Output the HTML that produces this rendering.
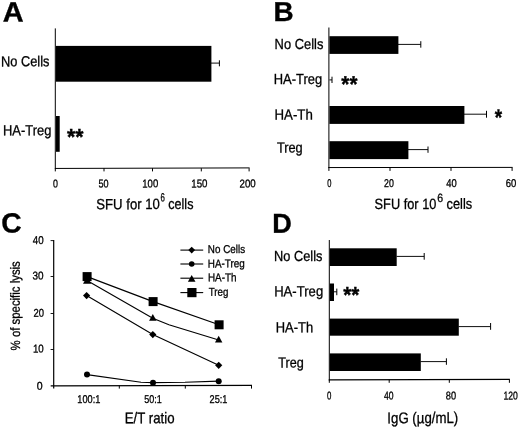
<!DOCTYPE html>
<html lang="en"><head><meta charset="utf-8"><title>Figure</title>
<style>
html,body{margin:0;padding:0;background:#fff;}
svg{display:block;font-family:"Liberation Sans", Arial, Helvetica, sans-serif;fill:#000;}
text{stroke:#000;stroke-width:.3px;}
text[font-weight=bold]{stroke-width:.35px;}
</style></head><body>
<svg width="520" height="428" viewBox="0 0 520 428">
<rect x="0" y="0" width="520" height="428" style="fill:#fff"/>
<text id="t0" x="2.81" y="21.5" font-size="27.8" font-weight="bold" textLength="20.86" lengthAdjust="spacingAndGlyphs" transform="rotate(-0.1 2.81 21.5)">A</text>
<line x1="55.3" y1="28.4" x2="55.3" y2="169" stroke="#000" stroke-width="1"/>
<line x1="55" y1="168.45" x2="249.6" y2="167.9" stroke="#000" stroke-width="1"/>
<line x1="55.3" y1="168.2" x2="55.3" y2="171.4" stroke="#000" stroke-width="1"/>
<line x1="104" y1="168.2" x2="104" y2="171.4" stroke="#000" stroke-width="1"/>
<line x1="152.5" y1="168.2" x2="152.5" y2="171.4" stroke="#000" stroke-width="1"/>
<line x1="201.3" y1="168.2" x2="201.3" y2="171.4" stroke="#000" stroke-width="1"/>
<line x1="249.1" y1="168.2" x2="249.1" y2="171.4" stroke="#000" stroke-width="1"/>
<rect x="55.8" y="45.9" width="155.6" height="35.8"/>
<line x1="211" y1="63.1" x2="219.4" y2="63.1" stroke="#000" stroke-width="0.95"/>
<line x1="219.4" y1="60.3" x2="219.4" y2="66.3" stroke="#000" stroke-width="1"/>
<rect x="56" y="116" width="3.7" height="35.8"/>
<text id="t1" x="1.01" y="66.4" font-size="14.6" textLength="48.46" lengthAdjust="spacingAndGlyphs" transform="rotate(-0.1 1.01 66.4)">No Cells</text>
<text id="t2" x="2.99" y="135.3" font-size="14.6" textLength="48.36" lengthAdjust="spacingAndGlyphs" transform="rotate(-0.1 2.99 135.3)">HA-Treg</text>
<text id="t3" x="67.06" y="144.5" font-size="22.5" font-weight="bold" textLength="16.56" lengthAdjust="spacingAndGlyphs" transform="rotate(-0.1 67.06 144.5)">**</text>
<text id="t4" x="52.97" y="187.4" font-size="11.3" textLength="4.94" lengthAdjust="spacingAndGlyphs" transform="rotate(-0.1 52.97 187.4)">0</text>
<text id="t5" x="98.51" y="187.4" font-size="11.3" textLength="10.11" lengthAdjust="spacingAndGlyphs" transform="rotate(-0.1 98.51 187.4)">50</text>
<text id="t6" x="142.28" y="187.4" font-size="11.3" textLength="15.95" lengthAdjust="spacingAndGlyphs" transform="rotate(-0.1 142.28 187.4)">100</text>
<text id="t7" x="191.27" y="187.4" font-size="11.3" textLength="16.23" lengthAdjust="spacingAndGlyphs" transform="rotate(-0.1 191.27 187.4)">150</text>
<text id="t8" x="239.5" y="187.4" font-size="11.3" textLength="16.25" lengthAdjust="spacingAndGlyphs" transform="rotate(-0.1 239.5 187.4)">200</text>
<text font-size="14.8" transform="rotate(-0.1 97 209.2)"><tspan id="t9" x="96.28" y="209.2" font-size="14.8" textLength="63.66" lengthAdjust="spacingAndGlyphs">SFU for 10</tspan><tspan id="t10" x="160.49" y="201.5" font-size="12" textLength="4.36" lengthAdjust="spacingAndGlyphs">6</tspan><tspan id="t11" x="164.73" y="209.2" font-size="14.8" textLength="28.75" lengthAdjust="spacingAndGlyphs"> cells</tspan></text>
<text id="t12" x="273.4" y="21.1" font-size="27.3" font-weight="bold" textLength="20.17" lengthAdjust="spacingAndGlyphs" transform="rotate(-0.1 273.4 21.1)">B</text>
<line x1="328.9" y1="27.5" x2="328.9" y2="168" stroke="#000" stroke-width="1"/>
<line x1="328.3" y1="167.55" x2="512.6" y2="167.4" stroke="#000" stroke-width="1"/>
<line x1="328.9" y1="167.5" x2="328.9" y2="170.9" stroke="#000" stroke-width="1"/>
<line x1="390" y1="167.5" x2="390" y2="170.9" stroke="#000" stroke-width="1"/>
<line x1="451" y1="167.5" x2="451" y2="170.9" stroke="#000" stroke-width="1"/>
<line x1="512.1" y1="167.5" x2="512.1" y2="170.9" stroke="#000" stroke-width="1"/>
<rect x="329.4" y="36.2" width="69.0" height="17.7"/>
<line x1="398" y1="44.4" x2="420.8" y2="44.4" stroke="#000" stroke-width="0.95"/>
<line x1="420.8" y1="41.2" x2="420.8" y2="47.7" stroke="#000" stroke-width="1"/>
<line x1="329.4" y1="79.9" x2="332" y2="79.9" stroke="#000" stroke-width="0.95"/>
<line x1="332" y1="76.7" x2="332" y2="83" stroke="#000" stroke-width="1"/>
<rect x="329.4" y="106" width="135.0" height="17.9"/>
<line x1="464" y1="114.2" x2="486.5" y2="114.2" stroke="#000" stroke-width="0.95"/>
<line x1="486.5" y1="110.8" x2="486.5" y2="117.7" stroke="#000" stroke-width="1"/>
<rect x="329.4" y="141.2" width="79.0" height="17.9"/>
<line x1="408" y1="149.6" x2="428" y2="149.6" stroke="#000" stroke-width="0.95"/>
<line x1="428" y1="146.5" x2="428" y2="152.8" stroke="#000" stroke-width="1"/>
<text id="t13" x="274.59" y="49" font-size="14.6" textLength="48.82" lengthAdjust="spacingAndGlyphs" transform="rotate(-0.1 274.59 49)">No Cells</text>
<text id="t14" x="273.68" y="84" font-size="14.6" textLength="48.54" lengthAdjust="spacingAndGlyphs" transform="rotate(-0.1 273.68 84)">HA-Treg</text>
<text id="t15" x="274.52" y="119.5" font-size="14.6" textLength="38.35" lengthAdjust="spacingAndGlyphs" transform="rotate(-0.1 274.52 119.5)">HA-Th</text>
<text id="t16" x="276.89" y="152.5" font-size="14.6" textLength="25.85" lengthAdjust="spacingAndGlyphs" transform="rotate(-0.1 276.89 152.5)">Treg</text>
<text id="t17" x="341.33" y="91.7" font-size="22.5" font-weight="bold" textLength="16.15" lengthAdjust="spacingAndGlyphs" transform="rotate(-0.1 341.33 91.7)">**</text>
<text id="t18" x="494.64" y="125.1" font-size="22.5" font-weight="bold" textLength="7.41" lengthAdjust="spacingAndGlyphs" transform="rotate(-0.1 494.64 125.1)">*</text>
<text id="t19" x="327.22" y="186.9" font-size="11.3" textLength="4.2" lengthAdjust="spacingAndGlyphs" transform="rotate(-0.1 327.22 186.9)">0</text>
<text id="t20" x="384.1" y="186.9" font-size="11.3" textLength="9.83" lengthAdjust="spacingAndGlyphs" transform="rotate(-0.1 384.1 186.9)">20</text>
<text id="t21" x="446.16" y="186.9" font-size="11.3" textLength="10.49" lengthAdjust="spacingAndGlyphs" transform="rotate(-0.1 446.16 186.9)">40</text>
<text id="t22" x="505.73" y="186.9" font-size="11.3" textLength="10.6" lengthAdjust="spacingAndGlyphs" transform="rotate(-0.1 505.73 186.9)">60</text>
<text font-size="14.8" transform="rotate(-0.1 375.3 209)"><tspan id="t23" x="374.6" y="209" font-size="14.8" textLength="61.8" lengthAdjust="spacingAndGlyphs">SFU for 10</tspan><tspan id="t24" x="437.27" y="202.2" font-size="12" textLength="5.86" lengthAdjust="spacingAndGlyphs">6</tspan><tspan id="t25" x="442.94" y="209" font-size="14.8" textLength="29.31" lengthAdjust="spacingAndGlyphs"> cells</tspan></text>
<text id="t26" x="1.15" y="232.6" font-size="27.8" font-weight="bold" textLength="20.41" lengthAdjust="spacingAndGlyphs" transform="rotate(-0.1 1.15 232.6)">C</text>
<line x1="53.7" y1="240.1" x2="53.7" y2="388.6" stroke="#000" stroke-width="1.2"/>
<line x1="50.7" y1="385.9" x2="252" y2="385.3" stroke="#000" stroke-width="1.2"/>
<line x1="50.6" y1="240.6" x2="53.7" y2="240.6" stroke="#000" stroke-width="0.9"/>
<line x1="50.6" y1="276.5" x2="53.7" y2="276.5" stroke="#000" stroke-width="0.9"/>
<line x1="50.6" y1="313.5" x2="53.7" y2="313.5" stroke="#000" stroke-width="0.9"/>
<line x1="50.6" y1="349.5" x2="53.7" y2="349.5" stroke="#000" stroke-width="0.9"/>
<line x1="119.3" y1="385.6" x2="119.3" y2="388.6" stroke="#000" stroke-width="1"/>
<line x1="185.3" y1="385.6" x2="185.3" y2="388.6" stroke="#000" stroke-width="1"/>
<line x1="251.5" y1="385.6" x2="251.5" y2="388.6" stroke="#000" stroke-width="1"/>
<text id="t27" x="32.83" y="244" font-size="11.3" textLength="10.91" lengthAdjust="spacingAndGlyphs" transform="rotate(-0.1 32.83 244)">40</text>
<text id="t28" x="32.5" y="279.6" font-size="11.3" textLength="11.11" lengthAdjust="spacingAndGlyphs" transform="rotate(-0.1 32.5 279.6)">30</text>
<text id="t29" x="33.54" y="316.7" font-size="11.3" textLength="10.54" lengthAdjust="spacingAndGlyphs" transform="rotate(-0.1 33.54 316.7)">20</text>
<text id="t30" x="32.89" y="352.6" font-size="11.3" textLength="10.85" lengthAdjust="spacingAndGlyphs" transform="rotate(-0.1 32.89 352.6)">10</text>
<text id="t31" x="36.64" y="389.7" font-size="11.3" textLength="5.9" lengthAdjust="spacingAndGlyphs" transform="rotate(-0.1 36.64 389.7)">0</text>
<text id="rot" transform="translate(19.9 350.4) rotate(-90.1)" font-size="13.3" textLength="89.2" lengthAdjust="spacingAndGlyphs">% of specific lysis</text>
<text id="t32" x="77.35" y="403" font-size="11.3" textLength="23.04" lengthAdjust="spacingAndGlyphs" transform="rotate(-0.1 77.35 403)">100:1</text>
<text id="t33" x="144.26" y="403" font-size="11.3" textLength="17.52" lengthAdjust="spacingAndGlyphs" transform="rotate(-0.1 144.26 403)">50:1</text>
<text id="t34" x="209.57" y="403" font-size="11.3" textLength="17.86" lengthAdjust="spacingAndGlyphs" transform="rotate(-0.1 209.57 403)">25:1</text>
<text id="t35" x="124.74" y="423.3" font-size="15.5" textLength="49.83" lengthAdjust="spacingAndGlyphs" transform="rotate(-0.1 124.74 423.3)">E/T ratio</text>
<polyline fill="none" stroke="#000" stroke-width="1.15" points="87.1,276.6 153.1,301.6 219.1,324.8"/>
<polyline fill="none" stroke="#000" stroke-width="1.15" points="87,280.6 152.8,318.3 168.9,324.8 218.7,340"/>
<polyline fill="none" stroke="#000" stroke-width="1.15" points="86.6,295.6 152.8,334.6 218.7,365.3"/>
<polyline fill="none" stroke="#000" stroke-width="1.15" points="87,374.6 141,382.2 153,382.6 185,382.3 218.7,381.1"/>
<rect x="82.6" y="272.1" width="9.0" height="9.0"/>
<rect x="148.6" y="297.1" width="9.0" height="9.0"/>
<rect x="214.6" y="320.3" width="9.0" height="9.0"/>
<polygon points="87.1,276.59999999999997 91.19999999999999,283.7 83.0,283.7"/>
<polygon points="152.8,314.0 156.5,320.7 149.10000000000002,320.7"/>
<polygon points="218.7,335.8 222.39999999999998,342.5 215.0,342.5"/>
<polygon points="86.6,292.0 90.19999999999999,295.6 86.6,299.20000000000005 83.0,295.6"/>
<polygon points="152.8,331.0 156.4,334.6 152.8,338.20000000000005 149.20000000000002,334.6"/>
<polygon points="218.7,361.7 222.29999999999998,365.3 218.7,368.90000000000003 215.1,365.3"/>
<circle cx="87" cy="374.6" r="3.0"/>
<circle cx="153" cy="382.7" r="3.0"/>
<circle cx="218.7" cy="381.2" r="3.0"/>
<line x1="180.4" y1="250.1" x2="203.2" y2="250.1" stroke="#000" stroke-width="1.1"/>
<line x1="180.4" y1="264" x2="203.2" y2="264" stroke="#000" stroke-width="1.1"/>
<line x1="180.4" y1="278.2" x2="203.2" y2="278.2" stroke="#000" stroke-width="1.1"/>
<line x1="180.4" y1="292.6" x2="203.2" y2="292.6" stroke="#000" stroke-width="1.1"/>
<polygon points="191.7,246.7 195.1,250.1 191.7,253.5 188.29999999999998,250.1"/>
<circle cx="191.7" cy="264" r="2.8"/>
<polygon points="191.7,274.90000000000003 195.5,281.8 187.89999999999998,281.8"/>
<rect x="187.3" y="288.0" width="9.2" height="9.2"/>
<text id="t36" x="207.83" y="253" font-size="11.4" textLength="37.24" lengthAdjust="spacingAndGlyphs" transform="rotate(-0.1 207.83 253)">No Cells</text>
<text id="t37" x="207.83" y="267.4" font-size="11.4" textLength="37.03" lengthAdjust="spacingAndGlyphs" transform="rotate(-0.1 207.83 267.4)">HA-Treg</text>
<text id="t38" x="207.91" y="281.2" font-size="11.4" textLength="28.58" lengthAdjust="spacingAndGlyphs" transform="rotate(-0.1 207.91 281.2)">HA-Th</text>
<text id="t39" x="208.65" y="295.8" font-size="11.4" textLength="19.65" lengthAdjust="spacingAndGlyphs" transform="rotate(-0.1 208.65 295.8)">Treg</text>
<text id="t40" x="272.31" y="232.8" font-size="27.2" font-weight="bold" textLength="19.57" lengthAdjust="spacingAndGlyphs" transform="rotate(-0.1 272.31 232.8)">D</text>
<line x1="329.3" y1="240" x2="329.3" y2="380.5" stroke="#000" stroke-width="1"/>
<line x1="328.8" y1="379.9" x2="509.9" y2="379.4" stroke="#000" stroke-width="1.3"/>
<line x1="329.3" y1="379.6" x2="329.3" y2="382.8" stroke="#000" stroke-width="1"/>
<line x1="389.2" y1="379.6" x2="389.2" y2="382.8" stroke="#000" stroke-width="1"/>
<line x1="449.3" y1="379.6" x2="449.3" y2="382.8" stroke="#000" stroke-width="1"/>
<line x1="509.4" y1="379.6" x2="509.4" y2="382.8" stroke="#000" stroke-width="1"/>
<rect x="329.8" y="248.3" width="66.9" height="17.7"/>
<line x1="396.5" y1="256.4" x2="424.2" y2="256.4" stroke="#000" stroke-width="0.95"/>
<line x1="424.2" y1="253" x2="424.2" y2="259.7" stroke="#000" stroke-width="1"/>
<rect x="329.8" y="283.5" width="4.2" height="17.5"/>
<line x1="333.5" y1="291.8" x2="336.8" y2="291.8" stroke="#000" stroke-width="0.95"/>
<line x1="336.8" y1="288.6" x2="336.8" y2="295.2" stroke="#000" stroke-width="1"/>
<rect x="329.8" y="318.6" width="129.0" height="17.1"/>
<line x1="458.5" y1="326.6" x2="490.6" y2="326.6" stroke="#000" stroke-width="0.95"/>
<line x1="490.6" y1="323" x2="490.6" y2="329.8" stroke="#000" stroke-width="1"/>
<rect x="329.8" y="353.4" width="91.0" height="17.6"/>
<line x1="420.5" y1="361.6" x2="446.4" y2="361.6" stroke="#000" stroke-width="0.95"/>
<line x1="446.4" y1="358.3" x2="446.4" y2="364.8" stroke="#000" stroke-width="1"/>
<text id="t41" x="274.03" y="261" font-size="14.6" textLength="48.36" lengthAdjust="spacingAndGlyphs" transform="rotate(-0.1 274.03 261)">No Cells</text>
<text id="t42" x="274.16" y="296.2" font-size="14.6" textLength="49.03" lengthAdjust="spacingAndGlyphs" transform="rotate(-0.1 274.16 296.2)">HA-Treg</text>
<text id="t43" x="275.65" y="332.2" font-size="14.6" textLength="37.46" lengthAdjust="spacingAndGlyphs" transform="rotate(-0.1 275.65 332.2)">HA-Th</text>
<text id="t44" x="278.21" y="367.5" font-size="14.6" textLength="25.55" lengthAdjust="spacingAndGlyphs" transform="rotate(-0.1 278.21 367.5)">Treg</text>
<text id="t45" x="343.16" y="302.5" font-size="22.5" font-weight="bold" textLength="16.16" lengthAdjust="spacingAndGlyphs" transform="rotate(-0.1 343.16 302.5)">**</text>
<text id="t46" x="326.88" y="399.5" font-size="11.3" textLength="4.39" lengthAdjust="spacingAndGlyphs" transform="rotate(-0.1 326.88 399.5)">0</text>
<text id="t47" x="384.04" y="399.5" font-size="11.3" textLength="9.58" lengthAdjust="spacingAndGlyphs" transform="rotate(-0.1 384.04 399.5)">40</text>
<text id="t48" x="445.82" y="399.5" font-size="11.3" textLength="10.3" lengthAdjust="spacingAndGlyphs" transform="rotate(-0.1 445.82 399.5)">80</text>
<text id="t49" x="503.42" y="399.5" font-size="11.3" textLength="14.4" lengthAdjust="spacingAndGlyphs" transform="rotate(-0.1 503.42 399.5)">120</text>
<text id="t50" x="387.33" y="423.2" font-size="15.5" textLength="70.96" lengthAdjust="spacingAndGlyphs" transform="rotate(-0.1 387.33 423.2)">IgG (µg/mL)</text>
</svg>
</body></html>
